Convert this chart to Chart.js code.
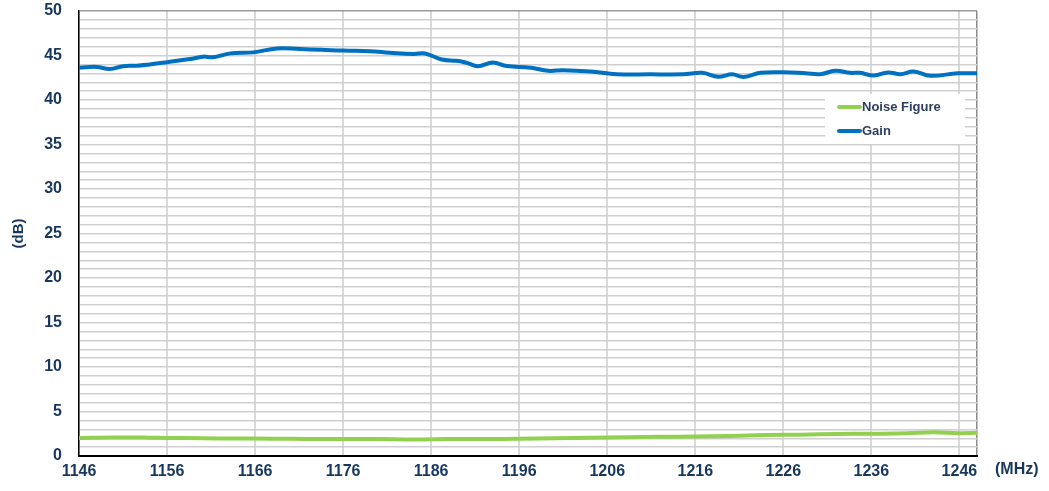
<!DOCTYPE html>
<html>
<head>
<meta charset="utf-8">
<script src="https://cdn.jsdelivr.net/npm/chart.js@4/dist/chart.umd.min.js"></script>
<style>
  html, body { margin: 0; padding: 0; background: #ffffff; }
  #wrap { position: relative; width: 1049px; height: 491px; }
</style>
</head>
<body>
<div id="wrap"><canvas id="myChart" width="1049" height="491"></canvas></div>
<script>
// Valeurs
const xTicks = [1146, 1156, 1166, 1176, 1186, 1196, 1206, 1216, 1226, 1236, 1246];
const xMin = 1146;
const xMax = 1248;

const gainFreq = [1146, 1148, 1149.5, 1151, 1152.5, 1154, 1156, 1158.6, 1160.1, 1161.2, 1163.2, 1165.8, 1168.5, 1171.1, 1173.5, 1176, 1179, 1181.3, 1184, 1185.3, 1187.2, 1188.9, 1190, 1191.3, 1193, 1194.6, 1197.3, 1199.3, 1201, 1204.1, 1207.1, 1210.9, 1214.6, 1216.8, 1218.6, 1220.2, 1221.5, 1223.4, 1226, 1228.5, 1230.2, 1231.9, 1233.6, 1234.7, 1236.3, 1237.9, 1239.3, 1240.8, 1242.7, 1245.8, 1248];
const gainValues = [43.62, 43.72, 43.47, 43.8, 43.85, 44.0, 44.25, 44.6, 44.87, 44.8, 45.24, 45.35, 45.8, 45.72, 45.65, 45.55, 45.48, 45.32, 45.17, 45.22, 44.55, 44.4, 44.19, 43.8, 44.2, 43.82, 43.63, 43.28, 43.35, 43.2, 42.9, 42.88, 42.88, 43.05, 42.62, 42.88, 42.58, 43.05, 43.12, 43.0, 42.9, 43.28, 43.05, 43.05, 42.75, 43.1, 42.9, 43.2, 42.72, 43.0, 43.0];

const nfFreq = [1146, 1150, 1154, 1156, 1160, 1164, 1168, 1172, 1176, 1180, 1184, 1188, 1192, 1196, 1200, 1204, 1208, 1212, 1216, 1220, 1224, 1228, 1232, 1236, 1240, 1243, 1246, 1248];
const nfValues = [2.02, 2.08, 2.06, 2.02, 2.0, 1.96, 1.95, 1.92, 1.9, 1.9, 1.86, 1.9, 1.9, 1.95, 2.0, 2.05, 2.1, 2.15, 2.2, 2.25, 2.35, 2.4, 2.47, 2.5, 2.55, 2.66, 2.57, 2.6];

const seriesNames = ['Noise Figure', 'Gain'];
const seriesColors = ['#92d050', '#0070c0'];

const textColor = '#17375e';
const fontFamily = '"Liberation Sans", Arial, sans-serif';

const toPoints = (xs, ys) => xs.map((x, i) => ({ x: x, y: ys[i] }));

// Légende dessinée dans la zone du graphique
const insideLegend = {
    id: 'insideLegend',
    afterDraw(chart) {
        const ctx = chart.ctx;
        const area = chart.chartArea;
        const bx = area.right - 152;
        const by = area.top + 83;
        ctx.save();
        ctx.fillStyle = '#ffffff';
        ctx.fillRect(bx, by, 140, 50);
        ctx.font = 'bold 13px ' + fontFamily;
        ctx.textBaseline = 'middle';
        seriesNames.forEach((name, i) => {
            const y = by + 13 + i * 24;
            ctx.strokeStyle = seriesColors[i];
            ctx.lineWidth = 4;
            ctx.lineCap = 'round';
            ctx.beginPath();
            ctx.moveTo(bx + 14, y);
            ctx.lineTo(bx + 35, y);
            ctx.stroke();
            ctx.fillStyle = '#2d3f5e';
            ctx.fillText(name, bx + 37, y);
        });
        // unité de l'axe x
        ctx.font = 'bold 16px ' + fontFamily;
        ctx.fillStyle = textColor;
        ctx.textAlign = 'left';
        ctx.fillText('(MHz)', area.right + 18, area.bottom + 14);
        ctx.restore();
    }
};

const ctx = document.getElementById('myChart').getContext('2d');
const myChart = new Chart(ctx, {
    type: 'line',
    data: {
        datasets: [
            {
                label: seriesNames[0],
                data: toPoints(nfFreq, nfValues),
                borderColor: seriesColors[0],
                borderWidth: 4,
                pointRadius: 0,
                tension: 0.4,
                fill: false,
            },
            {
                label: seriesNames[1],
                data: toPoints(gainFreq, gainValues),
                borderColor: seriesColors[1],
                borderWidth: 4,
                pointRadius: 0,
                tension: 0.4,
                fill: false,
            },
        ],
    },
    options: {
        responsive: false,
        animation: false,
        layout: {
            padding: { top: 0, right: 72, left: 0, bottom: 0 },
        },
        scales: {
            x: {
                type: 'linear',
                min: xMin,
                max: xMax,
                afterBuildTicks: (axis) => {
                    axis.ticks = [...xTicks, xMax].map(v => ({ value: v }));
                },
                afterFit: (axis) => {
                    axis.height = 35;
                },
                ticks: {
                    autoSkip: false,
                    maxRotation: 0,
                    padding: 6,
                    color: textColor,
                    font: { family: fontFamily, size: 16, weight: 'bold' },
                    callback: (value) => xTicks.includes(value) ? String(value) : '',
                },
                grid: {
                    drawTicks: false,
                    color: (c) => c.tick && c.tick.value === xMax ? '#8c8c8c' : '#d9d9d9',
                    lineWidth: (c) => c.tick && c.tick.value === xMax ? 1.5 : 2,
                },
                border: { color: '#000000', width: 2 },
            },
            y: {
                min: 0,
                max: 50,
                afterFit: (axis) => {
                    axis.width = 79;
                    // le haut de la zone de tracé est à 11 px
                    axis.paddingTop = 11;
                    axis.paddingBottom = 0;
                },
                ticks: {
                    stepSize: 1,
                    autoSkip: false,
                    padding: 17,
                    color: textColor,
                    font: { family: fontFamily, size: 16, weight: 'bold' },
                    callback: (value) => value % 5 === 0 ? String(value) : '',
                },
                grid: {
                    drawTicks: false,
                    color: (c) => c.tick && c.tick.value === 50 ? '#9a9a9a' : '#cfcfcf',
                    lineWidth: 1.4,
                },
                border: { color: '#000000', width: 1.5 },
                title: {
                    display: true,
                    text: '(dB)',
                    color: textColor,
                    padding: { top: 10, bottom: 0 },
                    font: { family: fontFamily, size: 15, weight: 'bold' },
                },
            },
        },
        plugins: {
            legend: { display: false },
            tooltip: { enabled: false },
        },
    },
    plugins: [insideLegend],
});
</script>
</body>
</html>
